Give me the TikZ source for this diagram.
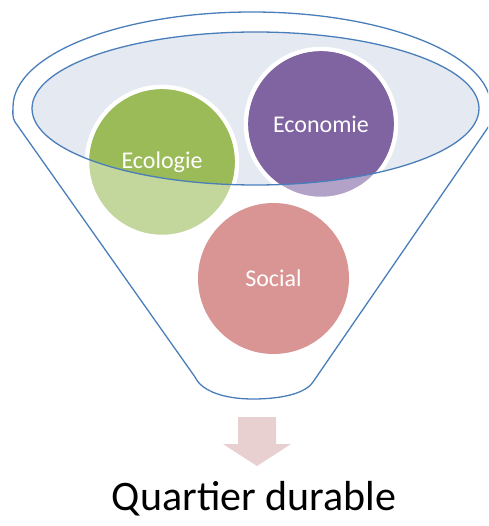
\documentclass[tikz,border=0pt]{standalone}
\usepackage{fontspec}
\setmainfont{Carlito}
\definecolor{funnelblue}{HTML}{4A7EBB}
\definecolor{rimfill}{HTML}{E4E9F2}
\definecolor{ecodark}{HTML}{9BBB59}
\definecolor{ecolight}{HTML}{C3D69B}
\definecolor{econdark}{HTML}{8064A2}
\definecolor{econlight}{HTML}{B2A2C7}
\definecolor{socialc}{HTML}{D99594}
\definecolor{arrowc}{HTML}{E8D0D0}
\tikzset{
  funnelline/.style={draw=funnelblue, line width=1.3pt},
  bubble/.style={circle, minimum size=150pt, inner sep=0pt, draw=white, line width=4.5pt},
  bubbletext/.style={text=white, font=\fontsize{24}{28}\selectfont},
}
\begin{document}
\begin{tikzpicture}[x=1pt,y=-1pt]
\useasboundingbox (0,0) rectangle (488,526);
% funnel outline
\begin{scope}
\clip (0,0) rectangle (488,526);
\draw[funnelline] (195,377) -- (15,122) .. controls (12,117) and (13,112) .. (13,107)
  arc[start angle=180, end angle=360, x radius=239, y radius=95]
  .. controls (491,112) and (492,117) .. (489,126) -- (313,382)
  .. controls (305,394) and (280,399) .. (253,399)
  .. controls (226,399) and (202,392) .. (195,377);
\end{scope}
% inner rim fill
\fill[rimfill] (255.5,108.5) ellipse[x radius=223.5, y radius=76.5];
% circles (light)
\node[bubble, fill=ecolight] (ecol) at (162,162) {};
\node[bubble, fill=econlight] (econ) at (321,124) {};
\node[bubble, fill=socialc, draw=none, minimum size=151pt] (soc) at (273.5,278.5) {};
% dark parts inside the rim
\begin{scope}
  \clip (255.5,108.5) ellipse[x radius=223.5, y radius=76.5];
  \fill[ecodark] (ecol.center) circle[radius=72.8];
  \fill[econdark] (econ.center) circle[radius=72.8];
\end{scope}
\draw[funnelline] (255.5,108.5) ellipse[x radius=223.5, y radius=76.5];
% labels
\node[bubbletext] at (ecol.center) {Ecologie};
\node[bubbletext] at (econ.center) {Economie};
\node[bubbletext] at (soc.center) {Social};
% arrow
\fill[arrowc] (238,417) -- (276,417) -- (276,444) -- (291,444) -- (257,466) -- (223,444) -- (238,444) -- cycle;
\node[font=\fontsize{42}{48}\selectfont, text=black, anchor=base] (res) at (254,510) {Quartier durable};
\end{tikzpicture}
\end{document}
